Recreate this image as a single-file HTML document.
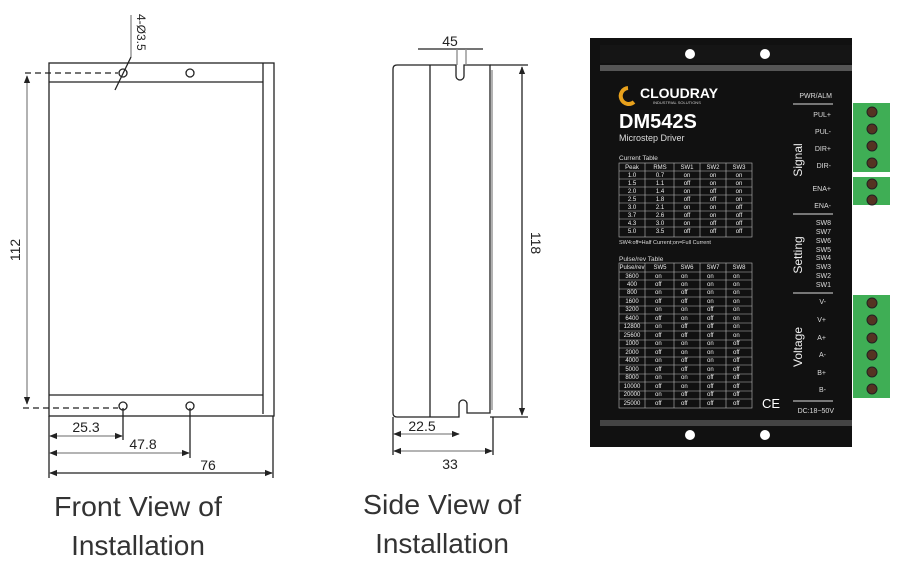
<!DOCTYPE html>
<html><head><meta charset="utf-8"><style>
body{margin:0;background:#fff;width:918px;height:570px;overflow:hidden;font-family:"Liberation Sans",sans-serif}
</style></head><body>
<svg width="918" height="570" xmlns="http://www.w3.org/2000/svg" font-family="Liberation Sans, sans-serif">
<defs>
<marker id="a" viewBox="0 0 10 10" refX="9" refY="5" markerWidth="6" markerHeight="6" orient="auto-start-reverse"><path d="M0,1 L10,5 L0,9z" fill="#222"/></marker>
</defs>
<g stroke="#222" stroke-width="1.3" fill="none">
<rect x="49" y="63" width="225" height="353"/>
<line x1="263" y1="63" x2="263" y2="414"/>
<line x1="49" y1="82" x2="263" y2="82"/>
<line x1="49" y1="395" x2="263" y2="395"/>
<circle cx="123" cy="73" r="4"/><circle cx="190" cy="73" r="4"/>
<circle cx="123" cy="406" r="4"/><circle cx="190" cy="406" r="4"/>
<line x1="25" y1="73" x2="118" y2="73" stroke-dasharray="6,4"/>
<line x1="23" y1="408" x2="118" y2="408" stroke-dasharray="6,4"/>
<line x1="27" y1="76" x2="27" y2="404" marker-start="url(#a)" marker-end="url(#a)" stroke="#888"/>
<line x1="131" y1="15" x2="131" y2="57" stroke="#888"/>
<line x1="131" y1="57" x2="115" y2="90"/>
<line x1="123" y1="408" x2="123" y2="440"/><line x1="190" y1="408" x2="190" y2="458"/>
<line x1="273" y1="416" x2="273" y2="478"/><line x1="49" y1="416" x2="49" y2="478"/>
<line x1="50" y1="436" x2="122" y2="436" marker-start="url(#a)" marker-end="url(#a)" stroke="#888"/>
<line x1="50" y1="453" x2="189" y2="453" marker-start="url(#a)" marker-end="url(#a)" stroke="#888"/>
<line x1="50" y1="473" x2="272" y2="473" marker-start="url(#a)" marker-end="url(#a)"/>
<path d="M397,65 H456 V76 A4,4 0 0 0 464,76 V65 H490 V413 H467 V404 A4,4 0 0 0 459,404 V417 H397 Q393,417 393,413 V69 Q393,65 397,65z"/>
<line x1="430" y1="65" x2="430" y2="417"/>
<line x1="492" y1="70" x2="492" y2="410" stroke="#888"/>
<line x1="418" y1="49" x2="483" y2="49"/>
<line x1="457" y1="49" x2="457" y2="65" stroke="#888"/><line x1="466" y1="49" x2="466" y2="65" stroke="#888"/>
<line x1="490" y1="65" x2="528" y2="65"/><line x1="490" y1="417" x2="528" y2="417"/>
<line x1="522" y1="67" x2="522" y2="415" marker-start="url(#a)" marker-end="url(#a)"/>
<line x1="393" y1="417" x2="393" y2="455"/><line x1="493" y1="417" x2="493" y2="455"/>
<line x1="394" y1="434" x2="459" y2="434" marker-start="url(#a)" marker-end="url(#a)" stroke="#888"/>
<line x1="394" y1="451" x2="492" y2="451" marker-start="url(#a)" marker-end="url(#a)" stroke="#888"/>
</g>
<g fill="#222" font-size="14">
<text x="0" y="0" transform="translate(137,14) rotate(90)" font-size="12">4-Ø3.5</text>
<text x="0" y="0" transform="translate(20,250) rotate(-90)" text-anchor="middle">112</text>
<text x="86" y="432" text-anchor="middle">25.3</text>
<text x="143" y="449" text-anchor="middle">47.8</text>
<text x="208" y="470" text-anchor="middle">76</text>
<text x="450" y="46" text-anchor="middle">45</text>
<text x="0" y="0" transform="translate(531,243) rotate(90)" text-anchor="middle">118</text>
<text x="422" y="431" text-anchor="middle">22.5</text>
<text x="450" y="469" text-anchor="middle">33</text>
</g>
<g fill="#333" font-size="28" text-anchor="middle">
<text x="138" y="516" textLength="168" lengthAdjust="spacingAndGlyphs">Front View of</text>
<text x="138" y="555">Installation</text>
<text x="442" y="514" textLength="158" lengthAdjust="spacingAndGlyphs">Side View of</text>
<text x="442" y="553">Installation</text>
</g>
<rect x="590" y="38" width="262" height="409" fill="#111"/>
<rect x="600" y="45" width="252" height="18" fill="#151515"/>
<rect x="600" y="65" width="252" height="6" fill="#555"/>
<rect x="600" y="420" width="252" height="6" fill="#444"/>
<circle cx="690" cy="54" r="5" fill="#fff"/><circle cx="765" cy="54" r="5" fill="#fff"/>
<circle cx="690" cy="435" r="5" fill="#fff"/><circle cx="765" cy="435" r="5" fill="#fff"/>
<path d="M628,88 a8,8 0 1 0 6,14" stroke="#e8a11c" stroke-width="4" fill="none"/>
<text x="640" y="98" fill="#fff" font-size="14" font-weight="bold">CLOUDRAY</text>
<text x="653" y="104" fill="#ccc" font-size="4">INDUSTRIAL SOLUTIONS</text>
<text x="619" y="128" fill="#fff" font-size="20" font-weight="bold">DM542S</text>
<text x="619" y="141" fill="#ddd" font-size="9">Microstep Driver</text>
<text x="619" y="160" fill="#ddd" font-size="6.5">Current Table</text>
<g stroke="#bbb" stroke-width="0.6" fill="none">
<rect x="619" y="163" width="133" height="74"/>
<rect x="619" y="263" width="133" height="145"/>
<path d="M645,163V237M674,163V237M700,163V237M726,163V237M645,263V408M674,263V408M700,263V408M726,263V408"/>
<path d="M619,171H752M619,179H752M619,187H752M619,195H752M619,203H752M619,211H752M619,219H752M619,227H752"/>
<path d="M619,272H752M619,280H752M619,289H752M619,297H752M619,306H752M619,314H752M619,323H752M619,331H752M619,340H752M619,348H752M619,357H752M619,365H752M619,374H752M619,382H752M619,391H752M619,399H752"/>
</g>
<g fill="#eee" font-size="6" text-anchor="middle">
<text x="632" y="169">Peak</text><text x="660" y="169">RMS</text><text x="687" y="169">SW1</text><text x="713" y="169">SW2</text><text x="739" y="169">SW3</text>
<text x="632" y="177">1.0</text><text x="660" y="177">0.7</text><text x="687" y="177">on</text><text x="713" y="177">on</text><text x="739" y="177">on</text>
<text x="632" y="185">1.5</text><text x="660" y="185">1.1</text><text x="687" y="185">off</text><text x="713" y="185">on</text><text x="739" y="185">on</text>
<text x="632" y="193">2.0</text><text x="660" y="193">1.4</text><text x="687" y="193">on</text><text x="713" y="193">off</text><text x="739" y="193">on</text>
<text x="632" y="201">2.5</text><text x="660" y="201">1.8</text><text x="687" y="201">off</text><text x="713" y="201">off</text><text x="739" y="201">on</text>
<text x="632" y="209">3.0</text><text x="660" y="209">2.1</text><text x="687" y="209">on</text><text x="713" y="209">on</text><text x="739" y="209">off</text>
<text x="632" y="217">3.7</text><text x="660" y="217">2.6</text><text x="687" y="217">off</text><text x="713" y="217">on</text><text x="739" y="217">off</text>
<text x="632" y="225">4.3</text><text x="660" y="225">3.0</text><text x="687" y="225">on</text><text x="713" y="225">off</text><text x="739" y="225">off</text>
<text x="632" y="233">5.0</text><text x="660" y="233">3.5</text><text x="687" y="233">off</text><text x="713" y="233">off</text><text x="739" y="233">off</text>
</g>
<text x="619" y="244" fill="#ddd" font-size="5.5">SW4:off=Half Current;on=Full Current</text>
<text x="619" y="261" fill="#ddd" font-size="6.5">Pulse/rev Table</text>
<g fill="#eee" font-size="6" text-anchor="middle">
<text x="632" y="269">Pulse/rev</text><text x="660" y="269">SW5</text><text x="687" y="269">SW6</text><text x="713" y="269">SW7</text><text x="739" y="269">SW8</text>
<text x="632" y="278">3600</text><text x="632" y="286">400</text><text x="632" y="294">800</text><text x="632" y="303">1600</text><text x="632" y="311">3200</text><text x="632" y="320">6400</text><text x="632" y="328">12800</text><text x="632" y="337">25600</text><text x="632" y="345">1000</text><text x="632" y="354">2000</text><text x="632" y="362">4000</text><text x="632" y="371">5000</text><text x="632" y="379">8000</text><text x="632" y="388">10000</text><text x="632" y="396">20000</text><text x="632" y="405">25000</text>
</g>
<g fill="#eee" font-size="6">
<text x="655" y="278">on</text><text x="655" y="286">off</text><text x="655" y="294">on</text><text x="655" y="303">off</text><text x="655" y="311">on</text><text x="655" y="320">off</text><text x="655" y="328">on</text><text x="655" y="337">off</text><text x="655" y="345">on</text><text x="655" y="354">off</text><text x="655" y="362">on</text><text x="655" y="371">off</text><text x="655" y="379">on</text><text x="655" y="388">off</text><text x="655" y="396">on</text><text x="655" y="405">off</text>
<text x="681" y="278">on</text><text x="681" y="286">on</text><text x="681" y="294">off</text><text x="681" y="303">off</text><text x="681" y="311">on</text><text x="681" y="320">on</text><text x="681" y="328">off</text><text x="681" y="337">off</text><text x="681" y="345">on</text><text x="681" y="354">on</text><text x="681" y="362">off</text><text x="681" y="371">off</text><text x="681" y="379">on</text><text x="681" y="388">on</text><text x="681" y="396">off</text><text x="681" y="405">off</text>
<text x="707" y="278">on</text><text x="707" y="286">on</text><text x="707" y="294">on</text><text x="707" y="303">on</text><text x="707" y="311">off</text><text x="707" y="320">off</text><text x="707" y="328">off</text><text x="707" y="337">off</text><text x="707" y="345">on</text><text x="707" y="354">on</text><text x="707" y="362">on</text><text x="707" y="371">on</text><text x="707" y="379">off</text><text x="707" y="388">off</text><text x="707" y="396">off</text><text x="707" y="405">off</text>
<text x="733" y="278">on</text><text x="733" y="286">on</text><text x="733" y="294">on</text><text x="733" y="303">on</text><text x="733" y="311">on</text><text x="733" y="320">on</text><text x="733" y="328">on</text><text x="733" y="337">on</text><text x="733" y="345">off</text><text x="733" y="354">off</text><text x="733" y="362">off</text><text x="733" y="371">off</text><text x="733" y="379">off</text><text x="733" y="388">off</text><text x="733" y="396">off</text><text x="733" y="405">off</text>
</g>
<text x="762" y="408" fill="#fff" font-size="13">CE</text>
<g stroke="#ddd" stroke-width="1">
<line x1="793" y1="104" x2="833" y2="104"/><line x1="793" y1="214" x2="833" y2="214"/>
<line x1="793" y1="293" x2="833" y2="293"/><line x1="793" y1="401" x2="833" y2="401"/>
</g>
<g fill="#ddd" font-size="7" text-anchor="end">
<text x="832" y="98">PWR/ALM</text>
<text x="831" y="117">PUL+</text><text x="831" y="134">PUL-</text><text x="831" y="151">DIR+</text><text x="831" y="168">DIR-</text>
<text x="831" y="191">ENA+</text><text x="831" y="208">ENA-</text>
<text x="831" y="225">SW8</text><text x="831" y="234">SW7</text><text x="831" y="243">SW6</text><text x="831" y="252">SW5</text><text x="831" y="260">SW4</text><text x="831" y="269">SW3</text><text x="831" y="278">SW2</text><text x="831" y="287">SW1</text>
<text x="826" y="304">V-</text><text x="826" y="322">V+</text><text x="826" y="340">A+</text><text x="826" y="357">A-</text><text x="826" y="375">B+</text><text x="826" y="392">B-</text>
<text x="834" y="413">DC:18~50V</text>
</g>
<g fill="#eee" font-size="12" text-anchor="middle">
<text transform="translate(802,160) rotate(-90)">Signal</text>
<text transform="translate(802,255) rotate(-90)">Setting</text>
<text transform="translate(802,347) rotate(-90)">Voltage</text>
</g>
<g fill="#3fae55">
<rect x="853" y="103" width="37" height="69"/><rect x="853" y="177" width="37" height="28"/><rect x="853" y="295" width="37" height="103"/>
</g>
<g fill="#553322" stroke="#222" stroke-width="1">
<circle cx="872" cy="112" r="5"/><circle cx="872" cy="129" r="5"/><circle cx="872" cy="146" r="5"/><circle cx="872" cy="163" r="5"/>
<circle cx="872" cy="184" r="5"/><circle cx="872" cy="200" r="5"/>
<circle cx="872" cy="303" r="5"/><circle cx="872" cy="320" r="5"/><circle cx="872" cy="338" r="5"/><circle cx="872" cy="355" r="5"/><circle cx="872" cy="372" r="5"/><circle cx="872" cy="389" r="5"/>
</g>
</svg>
</body></html>
